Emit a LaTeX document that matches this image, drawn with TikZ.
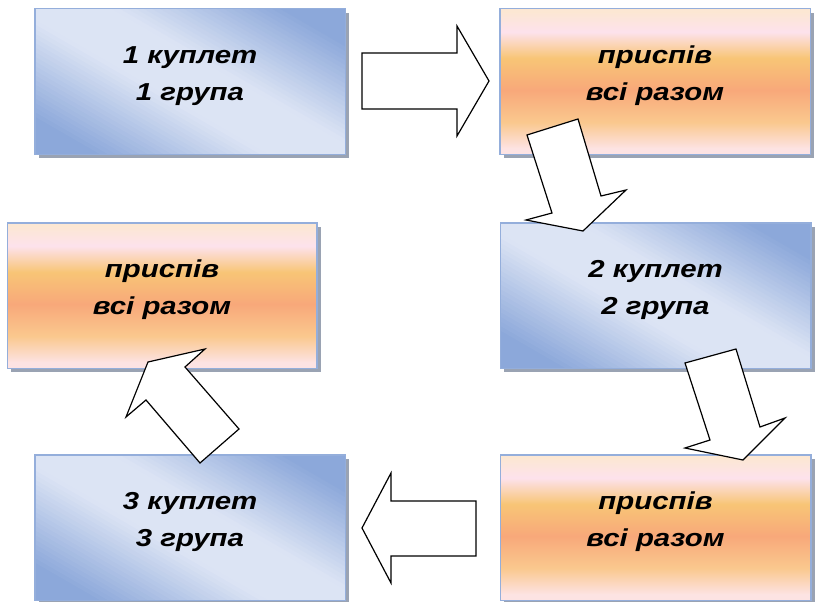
\documentclass[tikz,border=0pt]{standalone}
\usepackage{fontspec}
\newfontfamily\boxfont[FakeStretch=1.2]{Liberation Sans}
\usetikzlibrary{shadows}
\definecolor{bdark}{HTML}{8CA8DA}
\definecolor{blight}{HTML}{DCE4F4}
\definecolor{bborder}{HTML}{94AEDB}
\definecolor{shadowgray}{HTML}{9AA3B3}
\definecolor{oa}{HTML}{FCE7D3}
\definecolor{ob}{HTML}{FDE2EC}
\definecolor{oc}{HTML}{F8C576}
\definecolor{od}{HTML}{F8A87A}
\definecolor{oe}{HTML}{FAC88E}
\definecolor{of}{HTML}{FDE3E3}
\pgfdeclareverticalshading{orangev}{100bp}{color(0bp)=(of); color(27bp)=(of); color(36bp)=(oe); color(47bp)=(od); color(58bp)=(oc); color(67bp)=(ob); color(74bp)=(oa); color(100bp)=(oa)}
\tikzset{
  box/.style={draw=bborder, line width=1.5pt, inner sep=0pt, outer sep=0pt,
    minimum width=310.5pt, minimum height=145.5pt,
    drop shadow={shadow xshift=4pt, shadow yshift=-4pt, fill=shadowgray, opacity=1}},
  bluebox/.style={box, fill=blight, path picture={
      \foreach \i in {-46,...,45}{
        \pgfmathsetmacro\gdist{abs(\i*4+2)}
        \pgfmathsetmacro\gmix{min(100,max(0,(\gdist-25)/85*100))}
        \pgfmathsetmacro\aa{\i*4}
        \pgfmathsetmacro\ab{\i*4+4.6}
        \fill[bdark!\gmix!blight]
          ([shift={(\aa*0.5+200*0.866, -\aa*0.866+200*0.5)}]path picture bounding box.center) --
          ([shift={(\ab*0.5+200*0.866, -\ab*0.866+200*0.5)}]path picture bounding box.center) --
          ([shift={(\ab*0.5-200*0.866, -\ab*0.866-200*0.5)}]path picture bounding box.center) --
          ([shift={(\aa*0.5-200*0.866, -\aa*0.866-200*0.5)}]path picture bounding box.center) -- cycle;
      }}},
  orangebox/.style={box, shading=orangev},
  txt/.style={align=center, inner sep=0pt, font={\boxfont\bfseries\itshape\fontsize{24.5}{37}\selectfont}},
  blockarrow/.style={draw=black, fill=white, line width=1.2pt, line join=miter}
}
\begin{document}
\begin{tikzpicture}[x=1pt,y=-1pt]
\useasboundingbox (0,0) rectangle (831,602);
% boxes
\node[bluebox] (b1) at (190,81.5) {};
\node[orangebox] (b2) at (655,81.5) {};
\node[orangebox, minimum width=309.5pt] (b3) at (162,295.5) {};
\node[bluebox] (b4) at (655.5,295.5) {};
\node[bluebox] (b5) at (190,527.5) {};
\node[orangebox] (b6) at (655.5,527.5) {};
% texts
\node[txt] (t1) at ([yshift=7.4pt]b1.center) {\strut 1 куплет\\\strut 1 група};
\node[txt] (t2) at ([yshift=7.4pt]b2.center) {\strut приспів\\\strut всі разом};
\node[txt] (t3) at ([yshift=7.4pt]b3.center) {\strut приспів\\\strut всі разом};
\node[txt] (t4) at ([yshift=7.4pt]b4.center) {\strut 2 куплет\\\strut 2 група};
\node[txt] (t5) at ([yshift=7.4pt]b5.center) {\strut 3 куплет\\\strut 3 група};
\node[txt] (t6) at ([yshift=7.4pt]b6.center) {\strut приспів\\\strut всі разом};
% block arrows
\draw[blockarrow] (362,53) -- (457,53) -- (457,26) -- (489,81) -- (457,136) -- (457,109) -- (362,109) -- cycle;
\draw[blockarrow] (527,135) -- (578,119) -- (601,196) -- (626,190) -- (583,231) -- (526,220) -- (552,213) -- cycle;
\draw[blockarrow] (685,363) -- (736,349) -- (760,427) -- (785,418) -- (743,460) -- (685,448) -- (710,440) -- cycle;
\draw[blockarrow] (476,501) -- (391,501) -- (391,473) -- (362,528) -- (391,583) -- (391,556) -- (476,556) -- cycle;
\draw[blockarrow] (200,463) -- (239,429) -- (185,367) -- (205,349) -- (148,362) -- (126,417) -- (146,400) -- cycle;
\end{tikzpicture}
\end{document}
